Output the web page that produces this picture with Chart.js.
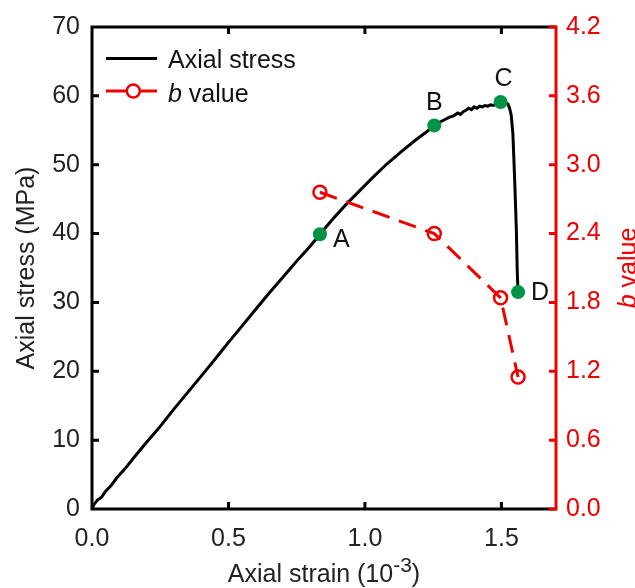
<!DOCTYPE html>
<html>
<head>
<meta charset="utf-8">
<script src="https://cdn.jsdelivr.net/npm/chart.js@4/dist/chart.umd.min.js"></script>
<style>
  html, body { margin: 0; padding: 0; background: #fff; }
  #wrap { width: 635px; height: 588px; }
</style>
</head>
<body>
<div id="wrap"><canvas id="c" width="635" height="588"></canvas></div>
<script>
// Stress–strain curve (strain in 1e-3, stress in MPa)
const strain = [0, 0.008, 0.02, 0.035, 0.05, 0.07, 0.09, 0.12, 0.15, 0.2, 0.25, 0.3, 0.35, 0.4, 0.45,
  0.5, 0.55, 0.6, 0.65, 0.7, 0.75, 0.8, 0.835, 0.88, 0.93, 0.98, 1.03, 1.08, 1.13, 1.18, 1.22, 1.254,
  1.275, 1.295, 1.31, 1.325, 1.34, 1.35, 1.36, 1.37, 1.38, 1.39, 1.40, 1.41, 1.42, 1.43, 1.44, 1.45,
  1.46, 1.47, 1.48, 1.49, 1.497, 1.505, 1.515, 1.524, 1.530, 1.536, 1.542, 1.546, 1.549, 1.552,
  1.555, 1.558, 1.561];
const stress = [0, 0.7, 1.3, 1.7, 2.6, 3.4, 4.5, 5.8, 7.3, 9.7, 12.0, 14.5, 16.9, 19.3, 21.7,
  24.2, 26.6, 29.0, 31.4, 33.7, 36.0, 38.2, 39.9, 42.0, 44.2, 46.2, 48.2, 50.1, 51.8, 53.4, 54.6, 55.7,
  56.2, 56.6, 56.9, 57.1, 57.5, 57.3, 57.7, 57.9, 58.2, 58.0, 58.4, 58.2, 58.5, 58.4, 58.6, 58.5,
  58.7, 58.6, 58.8, 59.0, 59.1, 59.1, 59.0, 58.8, 58.2, 57.2, 54.5, 50.5, 47.3, 43.8,
  40.2, 34.5, 31.5];

// Characteristic points A–D on the curve
const keyNames = ['A', 'B', 'C', 'D'];
const keyStrain = [0.835, 1.254, 1.497, 1.561];
const keyStress = [39.9, 55.7, 59.1, 31.5];

// b value at each characteristic point
const bStrain = [0.835, 1.254, 1.497, 1.561];
const bValue = [2.76, 2.40, 1.84, 1.15];

// Tick labels
const xTicks = [0, 0.5, 1.0, 1.5];
const yTicks = [0, 10, 20, 30, 40, 50, 60, 70];
const bTicks = [0, 0.6, 1.2, 1.8, 2.4, 3.0, 3.6, 4.2];

const FONT = '"Liberation Sans", Arial, sans-serif';
const FS = 25;
const RED = 'rgb(238,0,0)';
const GREEN = 'rgb(0,146,69)';
const INK = '#222';

const frameAndText = {
  id: 'frameAndText',
  afterDatasetsDraw(chart) {
    const ctx = chart.ctx;
    const a = chart.chartArea;
    const sx = chart.scales.x, sy = chart.scales.y, sb = chart.scales.y2;
    const tl = 7;
    const f = (s, it) => (it ? 'italic ' : '') + s + 'px ' + FONT;
    ctx.save();
    ctx.lineCap = 'butt';

    // black frame: left, bottom, top
    ctx.strokeStyle = '#000';
    ctx.lineWidth = 3;
    ctx.beginPath();
    ctx.moveTo(a.right, a.top); ctx.lineTo(a.left, a.top);
    ctx.lineTo(a.left, a.bottom); ctx.lineTo(a.right, a.bottom);
    ctx.stroke();

    // inward ticks
    ctx.beginPath();
    xTicks.forEach(v => {
      if (v === 0) return;
      const px = sx.getPixelForValue(v);
      ctx.moveTo(px, a.bottom); ctx.lineTo(px, a.bottom - tl);
      ctx.moveTo(px, a.top); ctx.lineTo(px, a.top + tl);
    });
    yTicks.forEach(v => {
      if (v === 0 || v === 70) return;
      const py = sy.getPixelForValue(v);
      ctx.moveTo(a.left, py); ctx.lineTo(a.left + tl, py);
    });
    ctx.stroke();

    // red right axis
    ctx.strokeStyle = RED;
    ctx.beginPath();
    ctx.moveTo(a.right, a.top - 1.5); ctx.lineTo(a.right, a.bottom + 1.5);
    bTicks.forEach(v => {
      const py = sb.getPixelForValue(v);
      ctx.moveTo(a.right, py); ctx.lineTo(a.right - tl, py);
    });
    ctx.stroke();

    // point labels
    ctx.fillStyle = '#111';
    ctx.font = f(FS);
    ctx.textBaseline = 'middle';
    const offs = [[13, 6, 'left'], [0, -22, 'center'], [3, -23, 'center'], [13, 1, 'left']];
    keyNames.forEach((n, i) => {
      const px = sx.getPixelForValue(keyStrain[i]);
      const py = sy.getPixelForValue(keyStress[i]);
      ctx.textAlign = offs[i][2];
      ctx.fillText(n, px + offs[i][0], py + offs[i][1]);
    });

    // legend
    ctx.textAlign = 'left';
    ctx.textBaseline = 'alphabetic';
    ctx.strokeStyle = '#000';
    ctx.lineWidth = 3;
    ctx.beginPath(); ctx.moveTo(106, 58.5); ctx.lineTo(157, 58.5); ctx.stroke();
    ctx.fillStyle = '#111';
    ctx.fillText('Axial stress', 168, 67.5);
    ctx.strokeStyle = RED;
    ctx.beginPath(); ctx.moveTo(106, 91); ctx.lineTo(126.3, 91);
    ctx.moveTo(140.3, 91); ctx.lineTo(157, 91); ctx.stroke();
    ctx.lineWidth = 2.5;
    ctx.beginPath(); ctx.arc(133.3, 91, 6.5, 0, Math.PI * 2); ctx.stroke();
    ctx.font = f(FS, true);
    ctx.fillText('b', 168, 101.5);
    const bw = ctx.measureText('b').width;
    ctx.font = f(FS);
    ctx.fillText(' value', 168 + bw, 101.5);

    // x-axis title with superscript
    ctx.fillStyle = INK;
    const t1 = 'Axial strain (10', t2 = '-3', t3 = ')';
    ctx.font = f(FS);
    const w1 = ctx.measureText(t1).width, w3 = ctx.measureText(t3).width;
    ctx.font = f(21);
    const w2 = ctx.measureText(t2).width;
    const cx = (a.left + a.right) / 2;
    const x0 = cx - (w1 + w2 + w3) / 2;
    const base = 582;
    ctx.font = f(FS);
    ctx.fillText(t1, x0, base);
    ctx.font = f(21);
    ctx.fillText(t2, x0 + w1, base - 10);
    ctx.font = f(FS);
    ctx.fillText(t3, x0 + w1 + w2, base);

    // left y title
    const cy = (a.top + a.bottom) / 2;
    ctx.save();
    ctx.translate(34, cy);
    ctx.rotate(-Math.PI / 2);
    ctx.textAlign = 'center';
    ctx.fillText('Axial stress (MPa)', 0, 0);
    ctx.restore();

    // right y title (red, italic b)
    ctx.save();
    ctx.translate(636, cy);
    ctx.rotate(-Math.PI / 2);
    ctx.fillStyle = RED;
    ctx.font = f(FS, true);
    const wb = ctx.measureText('b').width;
    ctx.font = f(FS);
    const wv = ctx.measureText(' value').width;
    const s0 = -(wb + wv) / 2;
    ctx.textAlign = 'left';
    ctx.font = f(FS, true);
    ctx.fillText('b', s0, 0);
    ctx.font = f(FS);
    ctx.fillText(' value', s0 + wb, 0);
    ctx.restore();

    ctx.restore();
  }
};

new Chart(document.getElementById('c'), {
  type: 'scatter',
  data: {
    datasets: [
      {
        label: 'Characteristic points',
        data: keyStrain.map((x, i) => ({ x, y: keyStress[i] })),
        yAxisID: 'y',
        showLine: false,
        pointRadius: 7,
        pointBackgroundColor: GREEN,
        pointBorderColor: GREEN,
        pointBorderWidth: 0,
        order: 0
      },
      {
        label: 'b value',
        data: bStrain.map((x, i) => ({ x, y: bValue[i] })),
        yAxisID: 'y2',
        showLine: true,
        borderColor: RED,
        borderWidth: 3,
        borderDash: [18, 10],
        pointRadius: 6.5,
        pointBorderWidth: 2.5,
        pointBorderColor: RED,
        pointBackgroundColor: 'rgba(0,0,0,0)',
        order: 1
      },
      {
        label: 'Axial stress',
        data: strain.map((x, i) => ({ x, y: stress[i] })),
        yAxisID: 'y',
        showLine: true,
        borderColor: '#000',
        borderWidth: 3,
        pointRadius: 0,
        tension: 0,
        order: 2
      }
    ]
  },
  options: {
    responsive: false,
    animation: false,
    devicePixelRatio: 1,
    layout: { padding: { top: 22, left: 0, right: 0, bottom: 0 } },
    plugins: { legend: { display: false }, tooltip: { enabled: false } },
    elements: { line: { borderCapStyle: 'butt' } },
    datasets: { scatter: { clip: false } },
    scales: {
      x: {
        type: 'linear', min: 0, max: 1.7,
        afterBuildTicks: s => { s.ticks = xTicks.map(v => ({ value: v })); },
        afterFit: s => { s.height = 79; },
        grid: { display: false, drawTicks: false },
        border: { display: false },
        ticks: { color: INK, font: { family: FONT, size: FS }, padding: 15,
                 callback: v => Number(v).toFixed(1), maxRotation: 0 }
      },
      y: {
        type: 'linear', position: 'left', min: 0, max: 70,
        afterBuildTicks: s => { s.ticks = yTicks.map(v => ({ value: v })); },
        afterFit: s => { s.width = 92; },
        grid: { display: false, drawTicks: false },
        border: { display: false },
        ticks: { color: INK, font: { family: FONT, size: FS }, padding: 12 }
      },
      y2: {
        type: 'linear', position: 'right', min: 0, max: 4.2,
        afterBuildTicks: s => { s.ticks = bTicks.map(v => ({ value: v })); },
        afterFit: s => { s.width = 79; },
        grid: { display: false, drawTicks: false },
        border: { display: false },
        ticks: { color: RED, font: { family: FONT, size: FS }, padding: 10,
                 callback: v => Number(v).toFixed(1) }
      }
    }
  },
  plugins: [frameAndText]
});
</script>
</body>
</html>
